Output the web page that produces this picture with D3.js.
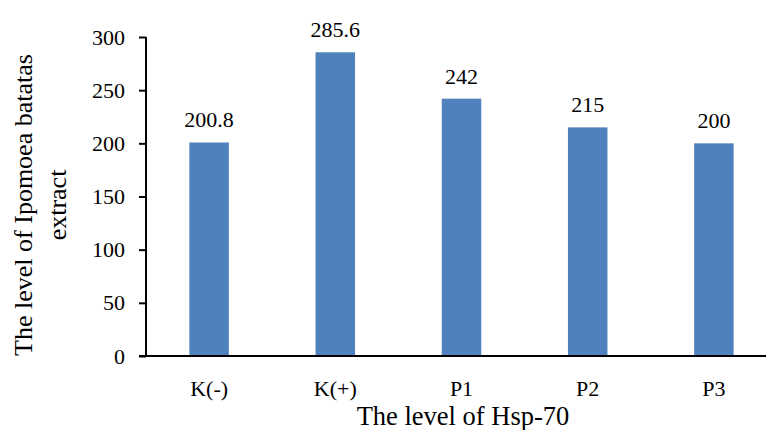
<!DOCTYPE html>
<html>
<head>
<meta charset="utf-8">
<script src="https://cdn.jsdelivr.net/npm/d3@7"></script>
<style>
  body { margin: 0; background: #fff; }
  text { font-family: "Liberation Serif", "DejaVu Serif", serif; fill: #000; }
</style>
</head>
<body>
<div id="chart"></div>
<script>
// data
var categories = ["K(-)", "K(+)", "P1", "P2", "P3"];
var values = [200.8, 285.6, 242, 215, 200];
var valueLabels = ["200.8", "285.6", "242", "215", "200"];
var yTicks = [0, 50, 100, 150, 200, 250, 300];

var width = 766, height = 430;

var svg = d3.select("#chart")
    .append("svg")
    .attr("width", width)
    .attr("height", height);

// scales (plot runs slightly off the right edge, like the source crop)
var xScale = d3.scaleBand()
    .domain(categories)
    .range([146, 777])
    .paddingInner(0.687)
    .paddingOuter(0.3435);

var yScale = d3.scaleLinear()
    .domain([0, 300])
    .range([356, 37]);

// bars
svg.selectAll(".bar")
    .data(values)
    .enter().append("rect")
    .attr("class", "bar")
    .attr("x", function (d, i) { return xScale(categories[i]); })
    .attr("width", xScale.bandwidth())
    .attr("y", function (d) { return yScale(d); })
    .attr("height", function (d) { return yScale(0) - yScale(d); })
    .style("fill", "#4f81bd");

// value labels
svg.selectAll(".vlabel")
    .data(values)
    .enter().append("text")
    .attr("class", "vlabel")
    .attr("x", function (d, i) { return xScale(categories[i]) + xScale.bandwidth() / 2; })
    .attr("y", function (d) { return yScale(d) - 15; })
    .attr("text-anchor", "middle")
    .style("font-size", "22px")
    .text(function (d, i) { return valueLabels[i]; });

// y axis
var yAxis = d3.axisLeft(yScale).tickValues(yTicks).tickSize(7).tickPadding(14);
var gy = svg.append("g")
    .attr("transform", "translate(146,0)")
    .call(yAxis);
gy.select(".domain").attr("stroke", "#000").attr("stroke-width", 2).attr("d", "M0,37V356");
gy.selectAll(".tick line").attr("stroke", "#000").attr("stroke-width", 2);
gy.selectAll(".tick text")
    .style("font-family", "Liberation Serif")
    .style("font-size", "22px");

// x axis
var xAxis = d3.axisBottom(xScale).tickSize(0).tickPadding(24);
var gx = svg.append("g")
    .attr("transform", "translate(0,356)")
    .call(xAxis);
gx.select(".domain").attr("stroke", "#000").attr("stroke-width", 2).attr("d", "M139,0H766");
gx.selectAll(".tick text")
    .style("font-family", "Liberation Serif")
    .style("font-size", "22px");

// axis titles
svg.append("text")
    .attr("x", 463)
    .attr("y", 425)
    .attr("text-anchor", "middle")
    .style("font-size", "26.5px")
    .text("The level of Hsp-70");

var yTitle = svg.append("text")
    .attr("transform", "translate(0,205) rotate(-90)")
    .attr("text-anchor", "middle")
    .style("font-size", "26px");
yTitle.append("tspan").attr("x", 0).attr("y", 32).text("The level of Ipomoea batatas");
yTitle.append("tspan").attr("x", 0).attr("y", 66).text("extract");
</script>
</body>
</html>
